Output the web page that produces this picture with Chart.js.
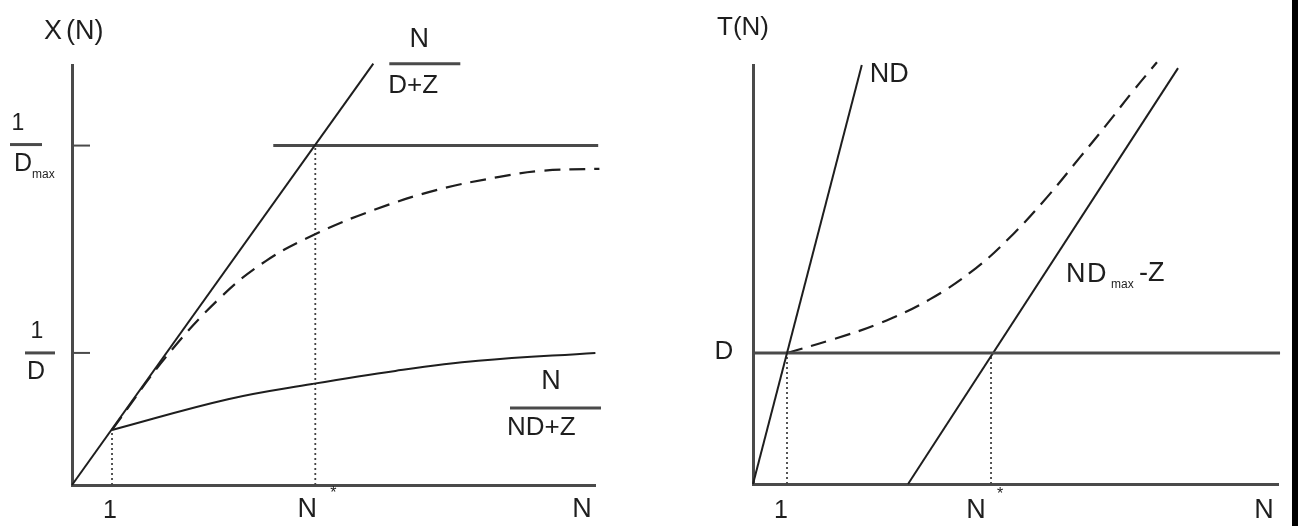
<!DOCTYPE html>
<html>
<head>
<meta charset="utf-8">
<title>X(N) and T(N) bounds</title>
<script src="https://cdn.jsdelivr.net/npm/chart.js@4.4.1/dist/chart.umd.min.js"></script>
<style>
  html, body { margin: 0; padding: 0; background: #fff; }
  #wrap { position: relative; width: 1298px; height: 526px; overflow: hidden; }
  canvas { position: absolute; top: 0; }
  #left { left: 0; }
  #right { left: 650px; }
  #edge { position: absolute; left: 1292px; top: 0; width: 6px; height: 526px; background: #000; }
</style>
</head>
<body>
<div id="wrap">
  <canvas id="left" width="650" height="526"></canvas>
  <canvas id="right" width="642" height="526"></canvas>
  <div id="edge"></div>
</div>
<script>
// left panel: throughput X(N), y in units of 1/D
const leftXMax = 13.07;
const leftYMax = 3.18;
const invD = 1;
const invDmax = 2.57;
const leftNStar = 6.08;
const boundN = [0, 7.53];
const boundX = [0, 3.19];
const dmaxN = [5.03, 13.15];
const mvaN = [1, 2.35, 3.7, 4.85, 6.1, 7.55, 9.13, 10.68, 11.73, 13.18];
const mvaX = [0.417, 0.97, 1.417, 1.697, 1.902, 2.083, 2.235, 2.333, 2.379, 2.394];
const lowN = [1, 3.9, 6.0, 8.08, 10.15, 13.08];
const lowX = [0.417, 0.65, 0.765, 0.864, 0.94, 1.0];

// right panel: response time T(N), y in units of D
const rightXMax = 15.44;
const rightYMax = 3.2;
const dVal = 1;
const rightNStar = 7.0;
const ndN = [0, 3.2];
const ndT = [0, 3.2];
const dLineN = [0, 15.5];
const asymN = [4.56, 12.5];
const asymT = [0, 3.176];
const mvaTN = [1, 2.38, 3.74, 5.21, 6.56, 7.65, 8.65, 9.62, 10.41, 11.15, 11.88];
const mvaT = [1, 1.107, 1.229, 1.412, 1.649, 1.908, 2.191, 2.496, 2.748, 2.992, 3.221];

const ink = '#1e1e1e';
const axisColor = '#4a4a4a';
const dotColor = '#444';
const fontFam = '"Liberation Sans", Arial, sans-serif';

function pts(xs, ys) {
  return xs.map((x, i) => ({ x, y: ys[i] }));
}

function line(data, opts) {
  return Object.assign({
    data, showLine: true, pointRadius: 0, borderColor: ink, borderWidth: 2,
    clip: false, fill: false, tension: 0
  }, opts || {});
}

function axis(max) {
  return {
    type: 'linear', min: 0, max: max,
    ticks: { display: false },
    grid: { display: false, drawTicks: false },
    border: { display: true, color: axisColor, width: 3 }
  };
}

function txt(ctx, s, x, y, size, align) {
  ctx.font = size + 'px ' + fontFam;
  ctx.textAlign = align || 'center';
  ctx.textBaseline = 'middle';
  ctx.fillText(s, x, y);
}

function hline(ctx, x0, x1, y) {
  ctx.beginPath();
  ctx.strokeStyle = axisColor;
  ctx.lineWidth = 3;
  ctx.moveTo(x0, y);
  ctx.lineTo(x1, y);
  ctx.stroke();
}

const leftLabels = {
  id: 'leftLabels',
  afterDraw(chart) {
    const { ctx, scales: { x, y }, chartArea: a } = chart;
    ctx.save();
    ctx.fillStyle = ink;
    txt(ctx, 'X', a.left - 28, 32, 27, 'left');
    txt(ctx, '(N)', a.left - 6, 32, 27, 'left');

    const yDmax = y.getPixelForValue(invDmax);
    txt(ctx, '1', 18, yDmax - 22, 23);
    hline(ctx, 10, 42, yDmax - 1);
    txt(ctx, 'D', 14, yDmax + 19, 25, 'left');
    txt(ctx, 'max', 32, yDmax + 29, 12, 'left');

    const yD = y.getPixelForValue(invD);
    txt(ctx, '1', 37, yD - 21, 23);
    hline(ctx, 25, 55, yD);
    txt(ctx, 'D', 36, yD + 19, 25);

    txt(ctx, '1', x.getPixelForValue(1) - 2, 511, 25);
    const xs = x.getPixelForValue(leftNStar);
    txt(ctx, 'N', xs - 8, 510, 27);
    txt(ctx, '*', xs + 18, 494, 16);
    txt(ctx, 'N', a.right - 13, 510, 27);

    const bx = x.getPixelForValue(boundN[1]);
    const by = y.getPixelForValue(boundX[1]);
    hline(ctx, bx + 16, bx + 87, by);
    txt(ctx, 'N', bx + 46, by - 24, 27);
    txt(ctx, 'D+Z', bx + 15, by + 22, 26, 'left');

    const ly = y.getPixelForValue(lowX[lowX.length - 1]) + 55;
    hline(ctx, a.right - 85, a.right + 6, ly);
    txt(ctx, 'N', a.right - 44, ly - 26, 27);
    txt(ctx, 'ND+Z', a.right - 88, ly + 20, 26, 'left');
    ctx.restore();
  }
};

const rightLabels = {
  id: 'rightLabels',
  afterDraw(chart) {
    const { ctx, scales: { x, y }, chartArea: a } = chart;
    ctx.save();
    ctx.fillStyle = ink;
    txt(ctx, 'T(N)', a.left - 36, 28, 26, 'left');
    txt(ctx, 'D', a.left - 29, y.getPixelForValue(dVal) - 1, 26);

    const ex = x.getPixelForValue(ndN[1]);
    const ey = y.getPixelForValue(ndT[1]);
    txt(ctx, 'ND', ex + 8, ey + 10, 27, 'left');

    const L = a.left + 313, ty = 275;
    txt(ctx, 'N', L, ty, 27, 'left');
    txt(ctx, 'D', L + 21, ty, 27, 'left');
    txt(ctx, 'max', L + 45, ty + 10, 12, 'left');
    txt(ctx, '-Z', L + 73, ty - 1, 27, 'left');

    txt(ctx, '1', x.getPixelForValue(1) - 6, 511, 25);
    const xs = x.getPixelForValue(rightNStar);
    txt(ctx, 'N', xs - 15, 511, 27);
    txt(ctx, '*', xs + 9, 495, 16);
    txt(ctx, 'N', a.right - 14, 511, 27);
    ctx.restore();
  }
};

const baseOptions = (xMax, yMax, pad) => ({
  responsive: false,
  animation: false,
  events: [],
  layout: { padding: pad },
  scales: { x: axis(xMax), y: axis(yMax) },
  plugins: { legend: { display: false }, tooltip: { enabled: false } }
});

const dotted = { borderColor: dotColor, borderWidth: 1.8, borderDash: [2, 3] };
const dashed = { borderDash: [16, 9], borderWidth: 2.2, tension: 0.4 };

new Chart(document.getElementById('left'), {
  type: 'scatter',
  data: {
    datasets: [
      line(pts(boundN, boundX)),
      line(pts(dmaxN, [invDmax, invDmax]), { borderColor: axisColor, borderWidth: 3 }),
      line(pts(mvaN, mvaX), dashed),
      line(pts(lowN, lowX), { tension: 0.4 }),
      line(pts([leftNStar, leftNStar], [0, invDmax]), dotted),
      line(pts([1, 1], [0, lowX[0]]), dotted),
      line(pts([0, 0.45], [invD, invD]), { borderColor: axisColor, borderWidth: 2 }),
      line(pts([0, 0.45], [invDmax, invDmax]), { borderColor: axisColor, borderWidth: 2 })
    ]
  },
  options: baseOptions(leftXMax, leftYMax, { left: 72, right: 55, top: 65, bottom: 41 }),
  plugins: [leftLabels]
});

new Chart(document.getElementById('right'), {
  type: 'scatter',
  data: {
    datasets: [
      line(pts(ndN, ndT)),
      line(pts(dLineN, [dVal, dVal]), { borderColor: axisColor, borderWidth: 3 }),
      line(pts(asymN, asymT)),
      line(pts(mvaTN, mvaT), dashed),
      line(pts([1, 1], [0, dVal]), dotted),
      line(pts([rightNStar, rightNStar], [0, dVal]), dotted)
    ]
  },
  options: baseOptions(rightXMax, rightYMax, { left: 103, right: 14, top: 65, bottom: 42 }),
  plugins: [rightLabels]
});
</script>
</body>
</html>
